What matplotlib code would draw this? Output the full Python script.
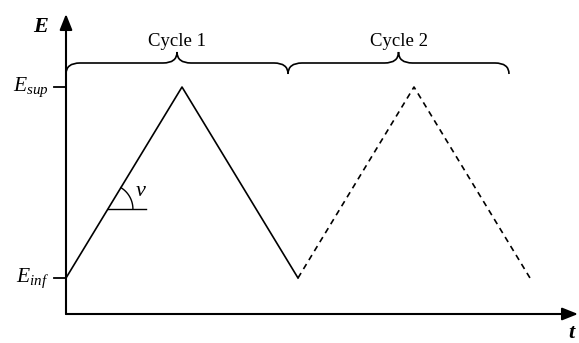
import numpy as np
import matplotlib.pyplot as plt
from matplotlib.path import Path
from matplotlib.patches import PathPatch

plt.rcParams['mathtext.fontset'] = 'custom'
plt.rcParams['mathtext.rm'] = 'Liberation Serif'
plt.rcParams['mathtext.it'] = 'Liberation Serif:italic'
plt.rcParams['font.family'] = ['Liberation Serif', 'DejaVu Serif']

# waveform (t in half-cycles, E normalised: 0 = E_inf, 1 = E_sup)
t_cycle1 = [0, 1, 2]
E_cycle1 = [0, 1, 0]
t_cycle2 = [2, 3, 4]
E_cycle2 = [0, 1, 0]

cycle_labels = ["Cycle 1", "Cycle 2"]
cycle_spans = [(0.0, 1.914), (1.914, 3.819)]
level_labels = [r"$E_{sup}$", r"$E_{inf}$"]
level_values = [1, 0]

# pixel scale of the data units
px_t = 116.0
px_E = 191.0

fig = plt.figure(figsize=(5.79, 3.43), dpi=100)
ax = fig.add_axes([0, 0, 1, 1])
ax.set_xlim(-66 / px_t, (579 - 66) / px_t)
ax.set_ylim((278 - 343) / px_E, 278 / px_E)
ax.axis('off')

# axes with arrows
y_axis = (278 - 314) / px_E
arrow = dict(arrowstyle='-|>,head_length=0.95,head_width=0.38',
             color='black', lw=1.5, shrinkA=0, shrinkB=0)
ax.annotate("", xy=(0, (278 - 14) / px_E), xytext=(0, y_axis), arrowprops=arrow)
ax.annotate("", xy=((578 - 66) / px_t, y_axis), xytext=(0, y_axis), arrowprops=arrow)
ax.text(-25 / px_t, (278 - 27) / px_E, "E", fontsize=16, fontweight='bold',
        fontstyle='italic', ha='center', va='center')
ax.text((571 - 66) / px_t, (278 - 333) / px_E, "t", fontsize=16, fontweight='bold',
        fontstyle='italic', ha='center', va='center')

# level ticks
for lab, v in zip(level_labels, level_values):
    ax.plot([-12 / px_t, 0], [v, v], color='black', lw=1.3)
    ax.text(-17 / px_t, v, lab, fontsize=15.5, ha='right', va='center')

# waveform
ax.plot(t_cycle1, E_cycle1, color='black', lw=1.2)
ax.plot(t_cycle2, E_cycle2, color='black', lw=1.2, linestyle=(0, (3.5, 2.8)))

# scan rate angle
E0 = (278 - 209) / px_E
t0 = E0
ax.plot([t0, (146 - 66) / px_t], [E0, E0], color='black', lw=1.0)
ang = np.radians(np.linspace(0, np.degrees(np.arctan2(px_E, px_t)), 40))
r = 25
ax.plot(t0 + r * np.cos(ang) / px_t, E0 + r * np.sin(ang) / px_E, color='black', lw=1.0)
ax.text((141 - 66) / px_t, (278 - 192) / px_E, r"$\nu$", fontsize=16, ha='center', va='center')


def brace(x0, x1, y, tip, top, dx):
    xc = (x0 + x1) / 2
    verts = [(x0, tip), (x0, y), (x0 + dx, y), (xc - dx, y), (xc, y), (xc, top),
             (xc, y), (xc + dx, y), (x1 - dx, y), (x1, y), (x1, tip)]
    codes = [Path.MOVETO, Path.CURVE3, Path.CURVE3, Path.LINETO, Path.CURVE3, Path.CURVE3,
             Path.CURVE3, Path.CURVE3, Path.LINETO, Path.CURVE3, Path.CURVE3]
    ax.add_patch(PathPatch(Path(verts, codes), fill=False, color='black', lw=1.2))
    return xc


for lab, (a, b) in zip(cycle_labels, cycle_spans):
    xc = brace(a, b, (278 - 63) / px_E, (278 - 74) / px_E, (278 - 52) / px_E, 14 / px_t)
    ax.text(xc, (278 - 41) / px_E, lab, fontsize=13.5, ha='center', va='center')

fig.savefig("out.png", dpi=100)
